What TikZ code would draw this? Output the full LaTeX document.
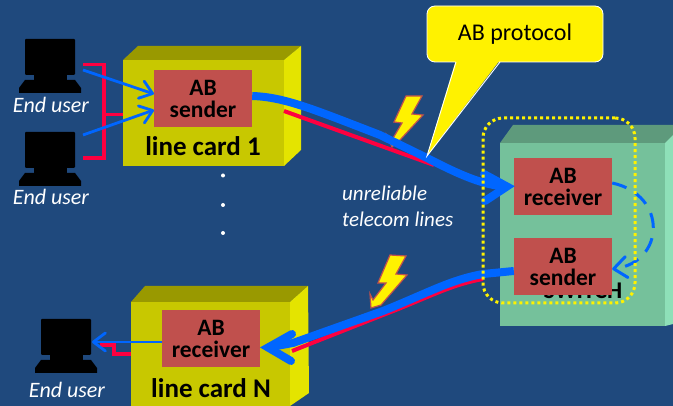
\documentclass[tikz,border=0pt]{standalone}
\usepackage{fontspec}
\setmainfont{Carlito}
\usetikzlibrary{arrows.meta,calc}
\definecolor{bg}{RGB}{31,73,125}
\definecolor{cardf}{RGB}{200,200,0}
\definecolor{cardt}{RGB}{153,153,0}
\definecolor{cardr}{RGB}{228,228,0}
\definecolor{swf}{RGB}{117,193,155}
\definecolor{swt}{RGB}{94,154,124}
\definecolor{swr}{RGB}{142,224,184}
\definecolor{abred}{RGB}{192,80,77}
\definecolor{lnblue}{RGB}{0,102,255}
\definecolor{lnred}{RGB}{255,0,64}
\tikzset{
  abbox/.style={fill=abred,minimum width=98pt,minimum height=57pt,inner sep=0pt,align=center,font=\fontsize{23.5}{25}\selectfont\bfseries,text=black},
  cardlabel/.style={font=\fontsize{27}{30}\selectfont\bfseries,text=black,inner sep=0pt},
  usertext/.style={font=\fontsize{22}{24}\selectfont\itshape,text=white,inner sep=0pt},
  thinblue/.style={draw=lnblue,line width=2.8pt,-{Straight Barb[length=12pt,width=18pt,round]}},
  thickblue/.style={draw=lnblue,line width=8pt},
  barbblue/.style={draw=lnblue,line width=8pt,line cap=round,line join=miter},
  redline/.style={draw=lnred,line width=3.2pt},
  redthick/.style={draw=lnred,line width=4pt},
  bolt/.style={fill=yellow,draw=abred,line width=1.2pt,line join=miter},
  dotp/.style={circle,fill=white,inner sep=0pt,minimum size=4pt},
  pcnode/.style={inner sep=0pt,minimum size=0pt},
}
\newcommand{\pcshape}[3]{%
  \fill[black,rounded corners=1pt] (#1,#2) rectangle ++(50,36);
  \fill[black] (#1+9,#2+36) rectangle ++(33,6);
  \fill[black] (#1,#2+41) -- (#1+50,#2+41) -- (#1+56,#2+49) -- (#1+56,#2+54) -- (#1-6,#2+54) -- (#1-6,#2+49) -- cycle;
  \node[pcnode] (#3) at (#1+50,#2+25) {};
}
\begin{document}
\begin{tikzpicture}[x=1pt,y=-1pt]
\useasboundingbox (0,0) rectangle (673,406);
\fill[bg] (0,0) rectangle (673,406);

% switch
\fill[swt] (500,143) -- (513,125) -- (673,125) -- (673,143) -- cycle;
\fill[swr] (665,143) -- (673,135) -- (673,324) -- (665,326) -- cycle;
\fill[swf] (500,143) rectangle (665,326);
\node[cardlabel,font=\fontsize{24}{28}\selectfont\bfseries] (swlabel) at (583,291) {SWITCH};

% line card 1
\fill[cardt] (123,60) -- (138,46) -- (301,46) -- (284,60) -- cycle;
\fill[cardr] (284,60) -- (301,46) -- (301,150) -- (284,166) -- cycle;
\fill[cardf] (123,60) rectangle (284,166);
\coordinate (card1w) at (123,114.5);
\coordinate (card1r) at (284,111);
\node[cardlabel] (lc1) at (203,146.5) {line card 1};
\node[abbox] (s1) at (203,98.5) {AB\\[-3pt]sender};

% line card N
\fill[cardt] (131,302) -- (145,286) -- (308,286) -- (290,302) -- cycle;
\fill[cardr] (290,302) -- (308,286) -- (309,393) -- (290,406) -- cycle;
\fill[cardf] (131,302) rectangle (290,406);
\coordinate (cardNw) at (131,354);
\node[cardlabel] (lcN) at (211,388) {line card N};
\node[abbox] (rN) at (211,338.5) {AB\\[-3pt]receiver};

% switch inner boxes
\node[abbox] (r2) at (563,186.5) {AB\\[-3pt]receiver};
\node[abbox] (s2) at (563,266.5) {AB\\[-3pt]sender};

% PCs
\pcshape{25}{39}{pc1}
\pcshape{25}{132}{pc2}
\pcshape{41}{319}{pc3}
\node[usertext] (u1) at (51,105) {End user};
\node[usertext] (u2) at (51,197) {End user};
\node[usertext] (u3) at (67,390) {End user};

% red bracket
\coordinate (b1) at (83,64.5);
\coordinate (b2) at (83,158);
\coordinate (bj) at (104,114.5);
\draw[redline] (b1) -- (104,64.5) -- (104,158) -- (b2);
\draw[redline] (bj) -- (card1w);
\coordinate (r3a) at (100,345);
\draw[redline] (cardNw) -- (114,354) -- (114,345) -- (r3a);

% thin blue
\coordinate (p1) at (83,70);
\coordinate (p2) at (83,135);
\draw[thinblue] (p1) -- (154,94);
\draw[thinblue] (p2) -- (154,110);
\draw[thinblue] (rN.west |- 0,342) -- (92,342);

% bolts
\path[bolt] (406,96) -- (422,96) -- (412,114) -- (423,115) -- (400,140) -- (392,147) -- (387,135) -- (392,140) -- (402,123) -- (394,122) -- cycle;
\path[bolt] (390,255) -- (406,256) -- (396,274) -- (407,275) -- (381,305) -- (371,308) -- (370,294) -- (373,300) -- (386,283) -- (378,283) -- cycle;

% red long lines
\coordinate (red1e) at (434,165);
\draw[redthick] (card1r) -- (red1e);
\coordinate (red2s) at (483,279);
\coordinate (red2e) at (292,351);
\draw[redthick] (red2s) .. controls (450,285) and (430,297) .. (383,315) -- (red2e);

% thick blue arrows
\coordinate (tipA) at (507,186.5);
\coordinate (barbA1) at (484,174);
\coordinate (barbA2) at (485,201);
\draw[thickblue] (s1.east |- 0,96) .. controls (285,97) and (315,110) .. (380,135) -- (428,158.5) .. controls (460,175) and (485,186) .. (tipA);
\draw[barbblue] (barbA1) -- (tipA) -- (barbA2);
\coordinate (tipB) at (268,347.5);
\coordinate (barbB1) at (292,334);
\coordinate (barbB2) at (291,361);
\draw[thickblue] (s2.west |- 0,271) -- (483,274) .. controls (450,280) and (430,292) .. (383,311) -- (293,343) -- (tipB);
\draw[barbblue] (barbB1) -- (tipB) -- (barbB2);

% dashed internal
\draw[draw=lnblue,line width=3pt,dash pattern=on 15pt off 10.5pt,-{Straight Barb[length=13pt,width=21pt,round]}]
  (r2.east |- 0,183) .. controls (668,195) and (665,262) .. (s2.east |- 0,269);

% callout
\node[fill=yellow,draw=white,line width=.8pt,rounded corners=8pt,minimum width=176pt,minimum height=56pt,inner sep=0pt,font=\fontsize{24}{26}\selectfont,text=black] (callout) at (515,34) {AB protocol};
\coordinate (ctip) at (427,156);
\fill[yellow] (456,60) -- (ctip) -- (500,60) -- cycle;
\draw[white,line width=.9pt] (456,62) -- (ctip) -- (500,62);

% dotted frame
\node[draw=yellow,line width=3pt,dash pattern=on 3pt off 3pt,rounded corners=20pt,minimum width=152pt,minimum height=185pt,inner sep=0pt] (frame) at (559,210.5) {};

% text
\node[font=\fontsize{21}{26}\selectfont\itshape,text=white,align=left,anchor=north west,inner sep=0pt] (tl) at (342,185.5) {unreliable\\telecom lines};

% dots
\node[dotp] (d1) at (223,175.5) {};
\node[dotp] (d2) at (223,205) {};
\node[dotp] (d3) at (223,233) {};
\end{tikzpicture}
\end{document}
